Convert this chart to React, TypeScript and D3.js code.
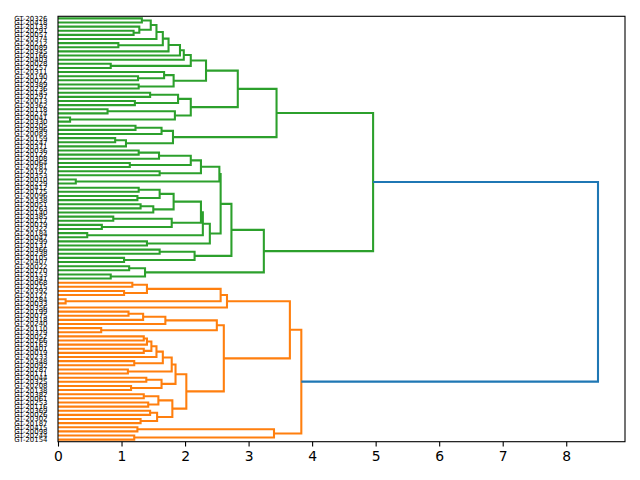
import React, { useEffect, useRef } from 'react';
import * as d3 from 'd3';

// A cluster is [upper, lower, merge height]; null stands for a single leaf.
type Node = null | [Node, Node, number];
const o: Node = null;

// ---- green cluster, upper half ----
const chainA: Node = [[[[[[[[o, o, 1.32], [o, [o, o, 1.19], 1.28], 1.46], o, 1.55], [o, o, 0.95], 1.65], o, 1.74], o, 1.92], o, 1.98], [o, o, 0.83], 2.09];
const groupA1b: Node = [[o, [o, o, 1.26], 1.67], [o, o, 1.27], 1.82];
const groupA2: Node = [[[o, o, 1.45], [o, o, 1.21], 1.89], [[o, o, 0.78], [o, o, 0.19], 1.84], 2.09];
const groupB: Node = [[[o, o, 1.22], o, 1.63], [[o, o, 0.9], o, 1.07], 1.81];
const greenUpper: Node = [[[chainA, groupA1b, 2.33], groupA2, 2.83], groupB, 3.44];

// ---- green cluster, lower half ----
const groupD1a: Node = [[[[[o, o, 1.27], o, 1.59], [o, o, 1.13], 2.09], [o, o, 1.6], 2.25], [o, o, 0.28], 2.54];
const groupX1: Node = [[[o, o, 1.27], [o, o, 1.25], 1.6], [[o, o, 1.3], o, 1.5], 1.82];
const groupX2: Node = [[o, o, 0.87], [o, o, 0.69], 1.79];
const groupD1b: Node = [[[groupX1, groupX2, 2.25], [o, o, 0.46], 2.28], [o, o, 1.4], 2.39];
const groupD2: Node = [[o, o, 1.6], [o, o, 1.04], 2.15];
const groupE: Node = [[o, o, 1.12], [o, o, 0.83], 1.37];
const greenLower: Node = [[[groupD1a, groupD1b, 2.56], groupD2, 2.73], groupE, 3.24];

const greenHeight = 4.96;

// ---- orange cluster ----
const groupO1a: Node = [[[[o, o, 1.17], [o, o, 1.04], 1.4], [o, o, 0.12], 2.56], o, 2.66];
const groupO1b1: Node = [[[[o, o, 1.11], o, 1.34], o, 1.69], [o, o, 0.68], 2.5];
const chainO: Node = [[[[[[o, o, 1.35], o, 1.4], [o, o, 1.35], 1.47], o, 1.55], [o, o, 1.2], 1.65], [o, o, 1.1], 1.79];
const groupO1b2: Node = [[chainO, [[o, o, 1.39], [o, o, 1.15], 1.63], 1.85], [[[o, o, 1.35], [o, o, 1.42], 1.58], [[o, o, 1.45], [o, o, 1.3], 1.56], 1.8], 2.02];
const groupO2: Node = [[o, o, 1.25], [o, o, 1.2], 3.4];
const orangeTree: Node = [[groupO1a, [groupO1b1, groupO1b2, 2.61], 3.65], groupO2, 3.83];

const rootHeight = 8.5;

const xTicks = [0, 1, 2, 3, 4, 5, 6, 7, 8];

const leafLabels = [
  'GT-20326', 'GT-20418', 'GT-20133', 'GT-20291', 'GT-20057', 'GT-20374', 'GT-20212', 'GT-20089', 'GT-20345', 'GT-20166',
  'GT-20403', 'GT-20028', 'GT-20257', 'GT-20311', 'GT-20190', 'GT-20072', 'GT-20389', 'GT-20236', 'GT-20145', 'GT-20297',
  'GT-20013', 'GT-20362', 'GT-20118', 'GT-20274', 'GT-20041', 'GT-20330', 'GT-20205', 'GT-20396', 'GT-20083', 'GT-20159',
  'GT-20247', 'GT-20371', 'GT-20036', 'GT-20122', 'GT-20308', 'GT-20064', 'GT-20281', 'GT-20197', 'GT-20353', 'GT-20010',
  'GT-20229', 'GT-20412', 'GT-20175', 'GT-20096', 'GT-20338', 'GT-20051', 'GT-20263', 'GT-20140', 'GT-20385', 'GT-20217',
  'GT-20079', 'GT-20322', 'GT-20184', 'GT-20047', 'GT-20299', 'GT-20131', 'GT-20366', 'GT-20238', 'GT-20105', 'GT-20407',
  'GT-20022', 'GT-20270', 'GT-20153', 'GT-20341', 'GT-20068', 'GT-20215', 'GT-20392', 'GT-20127', 'GT-20284', 'GT-20033',
  'GT-20356', 'GT-20199', 'GT-20075', 'GT-20318', 'GT-20240', 'GT-20110', 'GT-20379', 'GT-20052', 'GT-20266', 'GT-20163',
  'GT-20401', 'GT-20019', 'GT-20233', 'GT-20348', 'GT-20092', 'GT-20287', 'GT-20171', 'GT-20044', 'GT-20325', 'GT-20208',
  'GT-20138', 'GT-20382', 'GT-20061', 'GT-20253', 'GT-20116', 'GT-20369', 'GT-20026', 'GT-20302', 'GT-20187', 'GT-20415',
  'GT-20098', 'GT-20244', 'GT-20154', 'GT-20331', 'GT-20070', 'GT-20221', 'GT-20397', 'GT-20142', 'GT-20278', 'GT-20039',
];

const GREEN = '#2ca02c';
const ORANGE = '#ff7f0e';
const BLUE = '#1f77b4';

const W = 640;
const H = 480;
const plot = { left: 58, right: 625, top: 16.3, bottom: 441.7 };

function countLeaves(n: Node): number {
  return n === null ? 1 : countLeaves(n[0]) + countLeaves(n[1]);
}

export default function App() {
  const svgRef = useRef<SVGSVGElement>(null);

  useEffect(() => {
    const svg = d3.select(svgRef.current);
    svg.selectAll('*').remove();

    const nLeaves = countLeaves(greenUpper) + countLeaves(greenLower) + countLeaves(orangeTree);

    const x = d3.scaleLinear().domain([0, rootHeight * 1.05]).range([plot.left, plot.right]);
    // scipy style: leaves sit at 5, 15, 25 ... from the top
    const y = d3.scaleLinear().domain([0, nLeaves * 10]).range([plot.top, plot.bottom]);

    const links: { pts: [number, number][]; color: string }[] = [];
    const leaves: { pos: number; label: string }[] = [];
    let k = 0;

    function place(n: Node, color: string): { pos: number; h: number } {
      if (n === null) {
        const pos = 5 + 10 * k;
        leaves.push({ pos, label: leafLabels[k] });
        k++;
        return { pos, h: 0 };
      }
      const a = place(n[0], color);
      const b = place(n[1], color);
      links.push({ pts: [[a.h, a.pos], [n[2], a.pos], [n[2], b.pos], [b.h, b.pos]], color });
      return { pos: (a.pos + b.pos) / 2, h: n[2] };
    }

    const gu = place(greenUpper, GREEN);
    const gl = place(greenLower, GREEN);
    const gPos = (gu.pos + gl.pos) / 2;
    links.push({ pts: [[gu.h, gu.pos], [greenHeight, gu.pos], [greenHeight, gl.pos], [gl.h, gl.pos]], color: GREEN });
    const or = place(orangeTree, ORANGE);
    links.push({ pts: [[greenHeight, gPos], [rootHeight, gPos], [rootHeight, or.pos], [or.h, or.pos]], color: BLUE });

    const line = d3.line<[number, number]>().x(d => x(d[0])).y(d => y(d[1]));

    svg.append('rect')
      .attr('width', W)
      .attr('height', H)
      .attr('fill', '#fff');

    svg.append('g')
      .selectAll('path')
      .data(links)
      .enter()
      .append('path')
      .attr('d', d => line(d.pts))
      .attr('fill', 'none')
      .attr('stroke', d => d.color)
      .attr('stroke-width', 2.08);

    // leaf labels
    svg.append('g')
      .selectAll('text')
      .data(leaves)
      .enter()
      .append('text')
      .attr('x', plot.left - 10.5)
      .attr('y', d => y(d.pos))
      .attr('dy', '0.35em')
      .attr('text-anchor', 'end')
      .attr('font-family', 'DejaVu Sans')
      .attr('font-size', '6.94px')
      .attr('fill', '#000')
      .text(d => d.label);

    // x axis
    const axis = svg.append('g')
      .attr('transform', `translate(0,${plot.bottom})`)
      .call(d3.axisBottom(x).tickValues(xTicks).tickFormat(d3.format('d')).tickSize(4.86).tickPadding(4.4).tickSizeOuter(0));
    axis.select('.domain').remove();
    axis.selectAll('line').attr('stroke', '#000').attr('stroke-width', 1.1);
    axis.selectAll('text')
      .attr('font-family', 'DejaVu Sans')
      .attr('font-size', '13.9px')
      .attr('fill', '#000');

    // frame
    svg.append('rect')
      .attr('x', plot.left)
      .attr('y', plot.top)
      .attr('width', plot.right - plot.left)
      .attr('height', plot.bottom - plot.top)
      .attr('fill', 'none')
      .attr('stroke', '#000')
      .attr('stroke-width', 1.1);
  }, []);

  return (
    <svg
      ref={svgRef}
      width={W}
      height={H}
      style={{ position: 'absolute', left: 0, top: 0, display: 'block' }}
    />
  );
}
